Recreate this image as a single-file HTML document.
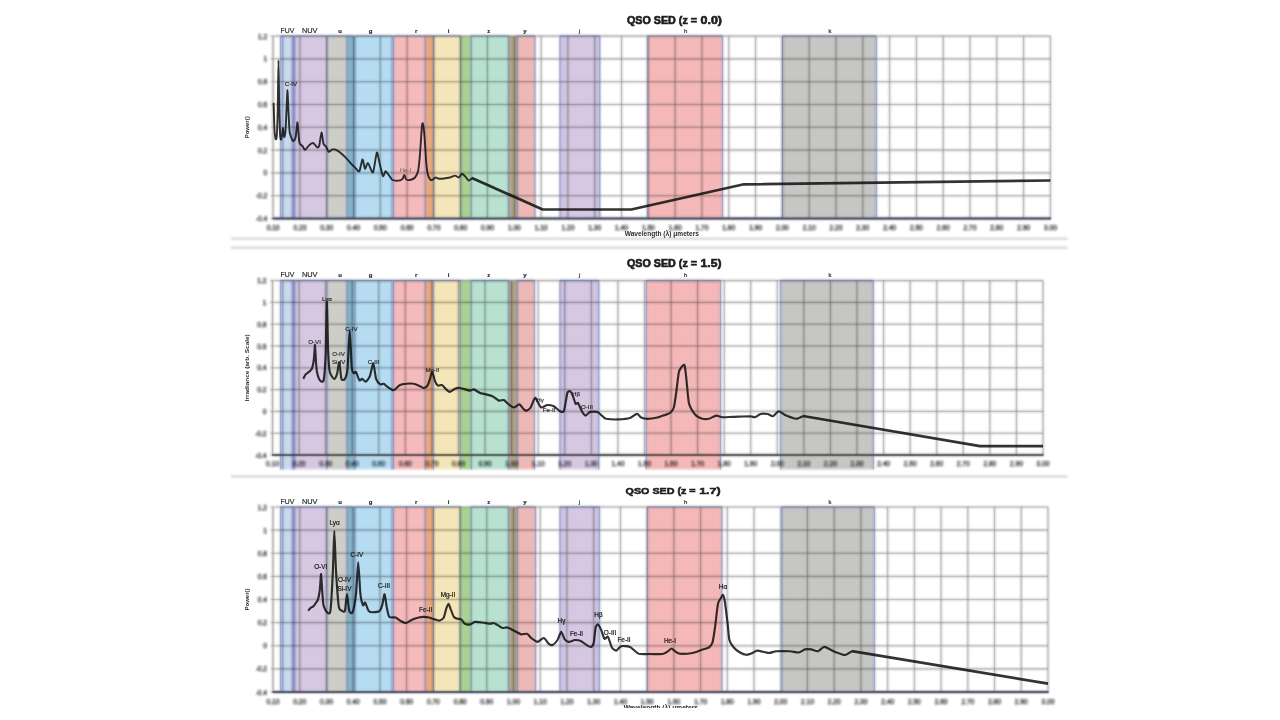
<!DOCTYPE html>
<html lang="en">
<head>
<meta charset="utf-8">
<title>QSO SED</title>
<style>
html,body{margin:0;padding:0;background:#fff;}
body{width:1280px;height:720px;overflow:hidden;font-family:"Liberation Sans", sans-serif;}
svg{display:block;font-family:"Liberation Sans", sans-serif;}
</style>
</head>
<body>
<svg width="1280" height="720" viewBox="0 0 1280 720">
<defs>
<filter id="soft" x="-2%" y="-2%" width="104%" height="104%"><feGaussianBlur stdDeviation="0.9"/></filter>
<filter id="softt" x="-5%" y="-5%" width="110%" height="110%"><feGaussianBlur stdDeviation="0.65"/></filter>
<filter id="softc" x="-2%" y="-2%" width="104%" height="104%"><feGaussianBlur stdDeviation="0.45"/></filter>
<clipPath id="xl3"><rect x="600" y="700" width="120" height="8.0"/></clipPath>
<filter id="softb" x="-5%" y="-20%" width="110%" height="140%"><feGaussianBlur stdDeviation="0.9"/></filter>
</defs>
<rect width="1280" height="720" fill="#fff"/>
<g>
<g filter="url(#soft)"><g stroke="#cfcfcf" stroke-width="2">
<line x1="231" y1="238.8" x2="1067.5" y2="238.8"/>
<line x1="231" y1="247.8" x2="1067.5" y2="247.8"/>
<line x1="231" y1="476.6" x2="1067.5" y2="476.6"/>
</g></g>
<g id="chart1">
<g filter="url(#soft)">
<rect x="280.60" y="36.10" width="13.80" height="182.40" fill="#cbdaea"/>
<rect x="295.40" y="36.10" width="31.60" height="182.40" fill="#d7c8e2"/>
<rect x="327.00" y="36.10" width="26.50" height="182.40" fill="#cecec8"/>
<rect x="355.00" y="36.10" width="37.00" height="182.40" fill="#b5dcf0"/>
<rect x="393.50" y="36.10" width="39.50" height="182.40" fill="#f4babc"/>
<rect x="433.00" y="36.10" width="27.50" height="182.40" fill="#f4e6b8"/>
<rect x="471.00" y="36.10" width="37.75" height="182.40" fill="#b8e2cf"/>
<rect x="517.00" y="36.10" width="18.00" height="182.40" fill="#edb9b7"/>
<rect x="560.00" y="36.10" width="39.75" height="182.40" fill="#d6c8e2"/>
<rect x="647.50" y="36.10" width="75.00" height="182.40" fill="#f4b8b8"/>
<rect x="782.50" y="36.10" width="93.80" height="182.40" fill="#c6c6c4"/>
<rect x="291.60" y="36.10" width="4.00" height="182.40" fill="#8388c4"/>
<rect x="347.00" y="36.10" width="8.00" height="182.40" fill="#86b5c7"/>
<rect x="425.20" y="36.10" width="8.20" height="182.40" fill="#eaa87d"/>
<rect x="460.30" y="36.10" width="11.00" height="182.40" fill="#a9d190"/>
<rect x="508.40" y="36.10" width="9.00" height="182.40" fill="#b3a486"/>
<rect x="560.00" y="36.10" width="6.50" height="182.40" fill="#d1c5e2"/>
<rect x="593.75" y="36.10" width="6.00" height="182.40" fill="#d1c5e2"/>
<path d="M280.60,36.10V218.50 M282.80,36.10V218.50 M327.00,36.10V218.50 M347.00,36.10V218.50 M355.00,36.10V218.50 M392.00,36.10V218.50 M393.50,36.10V218.50 M425.20,36.10V218.50 M433.40,36.10V218.50 M460.30,36.10V218.50 M471.30,36.10V218.50 M508.40,36.10V218.50 M517.40,36.10V218.50 M535.00,36.10V218.50 M560.00,36.10V218.50 M599.75,36.10V218.50 M647.50,36.10V218.50 M722.50,36.10V218.50 M782.50,36.10V218.50 M876.30,36.10V218.50 M280.60,36.10H294.40 M295.40,36.10H327.00 M327.00,36.10H353.50 M355.00,36.10H392.00 M393.50,36.10H433.00 M433.00,36.10H460.50 M471.00,36.10H508.75 M517.00,36.10H535.00 M560.00,36.10H599.75 M647.50,36.10H722.50 M782.50,36.10H876.30" stroke="#7283ba" stroke-opacity="0.6" stroke-width="1.6" fill="none"/>
<path d="M273.10,36.10V218.50 M299.90,36.10V218.50 M326.71,36.10V218.50 M353.51,36.10V218.50 M380.31,36.10V218.50 M407.12,36.10V218.50 M433.92,36.10V218.50 M460.72,36.10V218.50 M487.53,36.10V218.50 M514.33,36.10V218.50 M541.13,36.10V218.50 M567.94,36.10V218.50 M594.74,36.10V218.50 M621.54,36.10V218.50 M648.35,36.10V218.50 M675.15,36.10V218.50 M701.96,36.10V218.50 M728.76,36.10V218.50 M755.56,36.10V218.50 M782.37,36.10V218.50 M809.17,36.10V218.50 M835.97,36.10V218.50 M862.78,36.10V218.50 M889.58,36.10V218.50 M916.38,36.10V218.50 M943.19,36.10V218.50 M969.99,36.10V218.50 M996.79,36.10V218.50 M1023.60,36.10V218.50 M1050.40,36.10V218.50 M270.60,36.10H1050.40 M270.60,58.90H1050.40 M270.60,81.70H1050.40 M270.60,104.50H1050.40 M270.60,127.30H1050.40 M270.60,150.10H1050.40 M270.60,172.90H1050.40 M270.60,195.70H1050.40 M270.60,218.50H1050.40" stroke="#000" stroke-opacity="0.27" stroke-width="1.6" fill="none"/>
<line x1="272.60" y1="218.50" x2="1050.90" y2="218.50" stroke="#454b60" stroke-width="2.0" opacity="0.9"/>
<line x1="273.10" y1="36.10" x2="273.10" y2="218.50" stroke="#c2bbb1" stroke-width="1.6"/>
</g>
<path d="M280.60,36.10V218.50 M282.80,36.10V218.50 M327.00,36.10V218.50 M347.00,36.10V218.50 M355.00,36.10V218.50 M392.00,36.10V218.50 M393.50,36.10V218.50 M425.20,36.10V218.50 M433.40,36.10V218.50 M460.30,36.10V218.50 M471.30,36.10V218.50 M508.40,36.10V218.50 M517.40,36.10V218.50 M535.00,36.10V218.50 M560.00,36.10V218.50 M599.75,36.10V218.50 M647.50,36.10V218.50 M722.50,36.10V218.50 M782.50,36.10V218.50 M876.30,36.10V218.50 M280.60,36.10H294.40 M295.40,36.10H327.00 M327.00,36.10H353.50 M355.00,36.10H392.00 M393.50,36.10H433.00 M433.00,36.10H460.50 M471.00,36.10H508.75 M517.00,36.10H535.00 M560.00,36.10H599.75 M647.50,36.10H722.50 M782.50,36.10H876.30" stroke="#7283ba" stroke-opacity="0.45" stroke-width="1" fill="none"/><path d="M273.10,36.10V218.50 M299.90,36.10V218.50 M326.71,36.10V218.50 M353.51,36.10V218.50 M380.31,36.10V218.50 M407.12,36.10V218.50 M433.92,36.10V218.50 M460.72,36.10V218.50 M487.53,36.10V218.50 M514.33,36.10V218.50 M541.13,36.10V218.50 M567.94,36.10V218.50 M594.74,36.10V218.50 M621.54,36.10V218.50 M648.35,36.10V218.50 M675.15,36.10V218.50 M701.96,36.10V218.50 M728.76,36.10V218.50 M755.56,36.10V218.50 M782.37,36.10V218.50 M809.17,36.10V218.50 M835.97,36.10V218.50 M862.78,36.10V218.50 M889.58,36.10V218.50 M916.38,36.10V218.50 M943.19,36.10V218.50 M969.99,36.10V218.50 M996.79,36.10V218.50 M1023.60,36.10V218.50 M1050.40,36.10V218.50 M270.60,36.10H1050.40 M270.60,58.90H1050.40 M270.60,81.70H1050.40 M270.60,104.50H1050.40 M270.60,127.30H1050.40 M270.60,150.10H1050.40 M270.60,172.90H1050.40 M270.60,195.70H1050.40 M270.60,218.50H1050.40" stroke="#000" stroke-opacity="0.12" stroke-width="1" fill="none"/>
<line x1="272.60" y1="218.50" x2="1050.90" y2="218.50" stroke="#454b60" stroke-width="2.0" opacity="0.6"/>
<g fill="none" stroke="#0c0c0c" stroke-opacity="0.84" stroke-linejoin="round" stroke-linecap="butt"><path d="M273.6,102.8 C273.7,105.6 274.2,124.0 274.4,128.0 C274.6,132.0 275.3,138.1 275.6,139.0 C275.9,139.9 276.6,139.2 276.8,136.0 C277.0,132.8 277.5,118.3 277.7,110.0 C277.9,101.7 278.3,60.4 278.5,60.4 C278.7,60.4 279.1,101.7 279.3,110.0 C279.5,118.3 280.0,132.8 280.2,136.0 C280.4,139.2 281.0,139.7 281.2,139.5 C281.4,139.3 282.0,135.3 282.2,134.0 C282.4,132.7 282.8,127.7 283.0,128.0 C283.2,128.3 283.9,136.6 284.2,137.0 C284.5,137.4 285.1,135.0 285.4,132.0 C285.7,129.0 286.3,114.6 286.5,110.0 C286.7,105.4 287.3,90.1 287.5,90.3 C287.7,90.5 288.3,107.7 288.5,112.0 C288.7,116.3 289.2,126.6 289.4,129.0 C289.6,131.4 289.6,132.4 290.0,133.8 C290.4,135.1 292.4,140.6 293.0,141.0 C293.6,141.4 295.1,139.5 295.6,137.5 C296.1,135.5 297.1,122.0 297.5,122.5 C297.9,123.0 298.8,139.9 299.4,142.5 C299.9,145.1 301.9,145.2 302.5,146.0 C303.1,146.8 304.3,150.0 305.0,150.0 C305.7,150.0 307.9,146.4 308.8,145.6 C309.6,144.8 312.0,142.8 313.0,143.0 C314.0,143.2 316.8,147.3 317.5,147.5 C318.2,147.7 319.0,146.7 319.4,145.0 C319.8,143.3 321.0,132.6 321.5,132.5 C322.0,132.4 323.0,142.2 323.5,143.8 C324.0,145.3 325.7,146.0 326.2,146.9 C326.8,147.8 328.1,151.6 328.8,151.9 C329.4,152.2 331.5,149.5 332.5,149.4 C333.5,149.3 336.1,149.8 337.5,150.6 C338.9,151.4 343.5,155.5 345.0,156.9 C346.5,158.3 350.0,162.4 351.2,163.8 C352.5,165.1 355.4,167.9 356.2,168.8 C357.1,169.6 358.7,172.3 359.4,171.2 C360.1,170.2 361.9,159.7 362.5,159.4 C363.1,159.1 364.4,168.4 365.0,168.8 C365.6,169.1 367.1,162.6 368.0,163.0 C368.9,163.4 372.0,173.7 373.0,172.5 C374.0,171.3 376.1,153.3 376.9,152.5 C377.7,151.7 379.3,162.4 380.0,165.0 C380.7,167.6 382.4,175.6 383.0,176.2 C383.6,176.9 384.9,171.3 385.6,171.2 C386.3,171.2 388.6,175.0 389.4,176.0 C390.2,177.0 391.5,179.5 392.5,180.0 C393.5,180.5 397.6,180.7 398.8,180.6 C399.9,180.5 401.9,179.4 402.5,178.8 C403.1,178.1 404.0,174.9 404.4,175.0 C404.8,175.1 405.6,178.8 406.2,179.4 C406.9,180.0 409.0,180.2 410.0,180.0 C411.0,179.8 414.1,178.5 415.0,177.5 C415.9,176.5 417.4,173.9 418.0,171.2 C418.6,168.6 419.6,158.7 420.0,153.8 C420.4,148.8 421.6,129.6 421.9,126.2 C422.2,123.0 422.7,122.8 423.0,123.8 C423.3,124.7 424.0,130.7 424.4,135.0 C424.8,139.3 425.9,158.1 426.2,162.5 C426.6,166.9 427.5,173.1 428.0,175.0 C428.5,176.9 430.1,179.5 430.6,180.0 C431.2,180.5 432.4,179.7 433.0,179.4 C433.6,179.1 434.8,177.6 435.6,177.5 C436.4,177.4 438.4,178.8 440.0,178.8 C441.6,178.8 448.4,177.8 450.0,177.5 C451.6,177.2 454.0,175.6 455.0,175.6 C456.0,175.6 458.0,177.7 458.8,177.5 C459.5,177.3 461.2,173.9 461.9,173.8 C462.6,173.6 464.2,175.5 465.0,176.2 C465.8,177.0 468.0,180.4 468.8,180.6 C469.5,180.8 471.6,178.3 471.9,178.0" stroke-width="1.9"/><path d="M471.9,178.0 L542.7,209.5 L631.3,209.5 L743.9,184.3 L1050.4,180.5" stroke-width="2.7"/></g>
<g filter="url(#softt)">
<g font-size="6.6" fill="#1a1a1a" stroke="#1a1a1a" stroke-width="0.25" text-anchor="middle" filter="url(#softb)"><text x="273.10" y="230.30">0.10</text><text x="299.90" y="230.30">0.20</text><text x="326.71" y="230.30">0.30</text><text x="353.51" y="230.30">0.40</text><text x="380.31" y="230.30">0.50</text><text x="407.12" y="230.30">0.60</text><text x="433.92" y="230.30">0.70</text><text x="460.72" y="230.30">0.80</text><text x="487.53" y="230.30">0.90</text><text x="514.33" y="230.30">1.00</text><text x="541.13" y="230.30">1.10</text><text x="567.94" y="230.30">1.20</text><text x="594.74" y="230.30">1.30</text><text x="621.54" y="230.30">1.40</text><text x="648.35" y="230.30">1.50</text><text x="675.15" y="230.30">1.60</text><text x="701.96" y="230.30">1.70</text><text x="728.76" y="230.30">1.80</text><text x="755.56" y="230.30">1.90</text><text x="782.37" y="230.30">2.00</text><text x="809.17" y="230.30">2.10</text><text x="835.97" y="230.30">2.20</text><text x="862.78" y="230.30">2.30</text><text x="889.58" y="230.30">2.40</text><text x="916.38" y="230.30">2.50</text><text x="943.19" y="230.30">2.60</text><text x="969.99" y="230.30">2.70</text><text x="996.79" y="230.30">2.80</text><text x="1023.60" y="230.30">2.90</text><text x="1050.40" y="230.30">3.00</text></g>
<g font-size="6.6" fill="#1a1a1a" stroke="#1a1a1a" stroke-width="0.25" text-anchor="end" filter="url(#softb)"><text x="267.10" y="38.60">1.2</text><text x="267.10" y="61.40">1</text><text x="267.10" y="84.20">0.8</text><text x="267.10" y="107.00">0.6</text><text x="267.10" y="129.80">0.4</text><text x="267.10" y="152.60">0.2</text><text x="267.10" y="175.40">0</text><text x="267.10" y="198.20">-0.2</text><text x="267.10" y="221.00">-0.4</text></g>
<g fill="#2a2a2a" stroke="#2a2a2a" stroke-width="0.2" text-anchor="middle"><text x="287.50" y="32.60" font-size="8" textLength="13.8" lengthAdjust="spacingAndGlyphs">FUV</text><text x="309.70" y="32.60" font-size="8" textLength="15.6" lengthAdjust="spacingAndGlyphs">NUV</text><text x="340.00" y="32.60" font-size="6" font-weight="700">u</text><text x="370.60" y="32.60" font-size="6" font-weight="700">g</text><text x="416.20" y="32.60" font-size="6" font-weight="700">r</text><text x="448.70" y="32.60" font-size="6" font-weight="700">i</text><text x="488.70" y="32.60" font-size="6" font-weight="700">z</text><text x="525.00" y="32.60" font-size="6" font-weight="700">y</text><text x="579.40" y="32.60" font-size="6" font-weight="400">j</text><text x="685.60" y="32.60" font-size="6" font-weight="400">h</text><text x="830.00" y="32.60" font-size="6" font-weight="400">k</text></g>
<g transform="translate(0,23.60) scale(1,1.0)" font-size="11.6" font-weight="700" fill="#1c1c1c" stroke="#1c1c1c" stroke-width="0.65"><text x="627.00" y="0" textLength="70" lengthAdjust="spacingAndGlyphs">QSO SED (z =</text><text x="700.60" y="0" textLength="21.40" lengthAdjust="spacingAndGlyphs">0.0)</text></g>
<text transform="translate(249.3,127.30) rotate(-90)" font-size="6" font-weight="700" fill="#2a2a2a" text-anchor="middle" textLength="22" lengthAdjust="spacingAndGlyphs">Power()</text>
<g><text x="624.7" y="236" font-size="6.5" font-weight="700" fill="#2a2a2a" textLength="74.29999999999995" lengthAdjust="spacingAndGlyphs">Wavelength (λ) μmeters</text></g>
<g font-size="6.2" fill="#222" stroke="#222" stroke-width="0.15" text-anchor="middle"><text x="291.0" y="86.0">C-IV</text><text x="405.5" y="172.2" opacity="0.45">He-I</text></g>
</g>
</g>
<g id="chart2">
<g filter="url(#soft)">
<rect x="280.60" y="280.60" width="13.80" height="188.80" fill="#cbdaea"/>
<rect x="295.40" y="280.60" width="31.60" height="188.80" fill="#d7c8e2"/>
<rect x="327.00" y="280.60" width="26.50" height="188.80" fill="#cecec8"/>
<rect x="355.00" y="280.60" width="37.00" height="188.80" fill="#b5dcf0"/>
<rect x="393.50" y="280.60" width="39.50" height="188.80" fill="#f4babc"/>
<rect x="433.00" y="280.60" width="27.50" height="188.80" fill="#f4e6b8"/>
<rect x="471.00" y="280.60" width="37.75" height="188.80" fill="#b8e2cf"/>
<rect x="517.00" y="280.60" width="17.40" height="188.80" fill="#edb9b7"/>
<rect x="560.00" y="280.60" width="38.75" height="188.80" fill="#d6c8e2"/>
<rect x="646.25" y="280.60" width="74.25" height="188.80" fill="#f4b8b8"/>
<rect x="780.60" y="280.60" width="92.70" height="188.80" fill="#c6c6c4"/>
<rect x="291.60" y="280.60" width="4.00" height="188.80" fill="#8388c4"/>
<rect x="347.00" y="280.60" width="8.00" height="188.80" fill="#86b5c7"/>
<rect x="425.20" y="280.60" width="8.20" height="188.80" fill="#eaa87d"/>
<rect x="460.30" y="280.60" width="11.00" height="188.80" fill="#a9d190"/>
<rect x="508.40" y="280.60" width="9.00" height="188.80" fill="#b3a486"/>
<rect x="560.00" y="280.60" width="6.50" height="188.80" fill="#d1c5e2"/>
<rect x="592.75" y="280.60" width="6.00" height="188.80" fill="#d1c5e2"/>
<path d="M280.60,280.60V469.40 M282.80,280.60V469.40 M327.00,280.60V469.40 M347.00,280.60V469.40 M355.00,280.60V469.40 M392.00,280.60V469.40 M393.50,280.60V469.40 M425.20,280.60V469.40 M433.40,280.60V469.40 M460.30,280.60V469.40 M471.30,280.60V469.40 M508.40,280.60V469.40 M517.40,280.60V469.40 M534.40,280.60V469.40 M560.00,280.60V469.40 M598.75,280.60V469.40 M646.25,280.60V469.40 M720.50,280.60V469.40 M780.60,280.60V469.40 M873.30,280.60V469.40 M280.60,280.60H294.40 M295.40,280.60H327.00 M327.00,280.60H353.50 M355.00,280.60H392.00 M393.50,280.60H433.00 M433.00,280.60H460.50 M471.00,280.60H508.75 M517.00,280.60H534.40 M560.00,280.60H598.75 M646.25,280.60H720.50 M780.60,280.60H873.30" stroke="#7283ba" stroke-opacity="0.6" stroke-width="1.6" fill="none"/>
<path d="M272.50,280.60V455.00 M299.07,280.60V455.00 M325.64,280.60V455.00 M352.21,280.60V455.00 M378.78,280.60V455.00 M405.34,280.60V455.00 M431.91,280.60V455.00 M458.48,280.60V455.00 M485.05,280.60V455.00 M511.62,280.60V455.00 M538.19,280.60V455.00 M564.76,280.60V455.00 M591.33,280.60V455.00 M617.90,280.60V455.00 M644.47,280.60V455.00 M671.03,280.60V455.00 M697.60,280.60V455.00 M724.17,280.60V455.00 M750.74,280.60V455.00 M777.31,280.60V455.00 M803.88,280.60V455.00 M830.45,280.60V455.00 M857.02,280.60V455.00 M883.59,280.60V455.00 M910.16,280.60V455.00 M936.72,280.60V455.00 M963.29,280.60V455.00 M989.86,280.60V455.00 M1016.43,280.60V455.00 M1043.00,280.60V455.00 M270.00,280.60H1043.00 M270.00,302.40H1043.00 M270.00,324.20H1043.00 M270.00,346.00H1043.00 M270.00,367.80H1043.00 M270.00,389.60H1043.00 M270.00,411.40H1043.00 M270.00,433.20H1043.00 M270.00,455.00H1043.00" stroke="#000" stroke-opacity="0.27" stroke-width="1.6" fill="none"/>
<line x1="272.00" y1="455.00" x2="1043.50" y2="455.00" stroke="#3a3a3a" stroke-width="1.3" opacity="0.9"/>
<line x1="272.50" y1="280.60" x2="272.50" y2="455.00" stroke="#c2bbb1" stroke-width="1.6"/>
</g>
<path d="M280.60,280.60V469.40 M282.80,280.60V469.40 M327.00,280.60V469.40 M347.00,280.60V469.40 M355.00,280.60V469.40 M392.00,280.60V469.40 M393.50,280.60V469.40 M425.20,280.60V469.40 M433.40,280.60V469.40 M460.30,280.60V469.40 M471.30,280.60V469.40 M508.40,280.60V469.40 M517.40,280.60V469.40 M534.40,280.60V469.40 M560.00,280.60V469.40 M598.75,280.60V469.40 M646.25,280.60V469.40 M720.50,280.60V469.40 M780.60,280.60V469.40 M873.30,280.60V469.40 M280.60,280.60H294.40 M295.40,280.60H327.00 M327.00,280.60H353.50 M355.00,280.60H392.00 M393.50,280.60H433.00 M433.00,280.60H460.50 M471.00,280.60H508.75 M517.00,280.60H534.40 M560.00,280.60H598.75 M646.25,280.60H720.50 M780.60,280.60H873.30" stroke="#7283ba" stroke-opacity="0.45" stroke-width="1" fill="none"/><path d="M272.50,280.60V455.00 M299.07,280.60V455.00 M325.64,280.60V455.00 M352.21,280.60V455.00 M378.78,280.60V455.00 M405.34,280.60V455.00 M431.91,280.60V455.00 M458.48,280.60V455.00 M485.05,280.60V455.00 M511.62,280.60V455.00 M538.19,280.60V455.00 M564.76,280.60V455.00 M591.33,280.60V455.00 M617.90,280.60V455.00 M644.47,280.60V455.00 M671.03,280.60V455.00 M697.60,280.60V455.00 M724.17,280.60V455.00 M750.74,280.60V455.00 M777.31,280.60V455.00 M803.88,280.60V455.00 M830.45,280.60V455.00 M857.02,280.60V455.00 M883.59,280.60V455.00 M910.16,280.60V455.00 M936.72,280.60V455.00 M963.29,280.60V455.00 M989.86,280.60V455.00 M1016.43,280.60V455.00 M1043.00,280.60V455.00 M270.00,280.60H1043.00 M270.00,302.40H1043.00 M270.00,324.20H1043.00 M270.00,346.00H1043.00 M270.00,367.80H1043.00 M270.00,389.60H1043.00 M270.00,411.40H1043.00 M270.00,433.20H1043.00 M270.00,455.00H1043.00" stroke="#000" stroke-opacity="0.12" stroke-width="1" fill="none"/>
<line x1="272.00" y1="455.00" x2="1043.50" y2="455.00" stroke="#3a3a3a" stroke-width="1.3" opacity="0.6"/>
<g fill="none" stroke="#0c0c0c" stroke-opacity="0.84" stroke-linejoin="round" stroke-linecap="butt"><path d="M303.2,378.9 C303.5,378.4 305.0,375.2 305.5,374.5 C306.0,373.8 307.5,373.0 308.0,372.6 C308.5,372.2 309.5,371.5 310.0,371.0 C310.5,370.5 311.8,369.0 312.2,367.8 C312.6,366.6 313.5,362.5 313.8,360.0 C314.1,357.5 314.8,344.7 315.0,344.9 C315.2,345.1 315.8,359.0 316.0,362.0 C316.2,365.0 316.6,370.0 317.0,372.0 C317.4,374.0 319.2,379.4 319.9,380.3 C320.6,381.2 323.0,383.0 323.6,380.3 C324.2,377.6 325.2,364.6 325.6,356.0 C326.0,347.4 326.5,302.5 326.8,301.8 C327.1,301.1 327.8,342.5 328.1,350.0 C328.4,357.5 329.1,367.2 329.4,370.0 C329.7,372.8 330.4,374.0 331.0,375.0 C331.6,376.0 333.7,379.1 334.4,378.9 C335.1,378.7 336.7,375.1 337.2,373.3 C337.7,371.5 338.8,361.6 339.3,362.2 C339.8,362.8 340.8,377.1 341.4,378.9 C342.0,380.7 344.2,380.1 344.9,378.9 C345.6,377.7 347.1,373.1 347.6,367.8 C348.1,362.5 349.2,330.3 349.7,330.3 C350.2,330.3 351.3,363.1 351.8,367.8 C352.3,372.5 353.4,372.8 353.9,373.3 C354.4,373.8 355.4,371.2 356.0,372.0 C356.6,372.8 358.7,379.5 359.4,380.3 C360.1,381.1 361.5,378.7 362.2,378.9 C362.9,379.1 364.9,382.0 365.7,381.7 C366.5,381.4 369.1,378.1 369.9,376.1 C370.7,374.1 372.6,363.3 373.3,363.6 C374.0,363.9 375.3,376.6 376.1,378.9 C376.9,381.2 379.5,383.9 380.3,384.4 C381.1,384.9 383.0,383.5 383.8,383.8 C384.5,384.0 386.5,386.2 387.5,386.9 C388.5,387.6 391.7,389.7 392.5,390.0 C393.3,390.3 394.2,389.9 395.0,389.4 C395.8,388.8 398.8,385.6 400.0,385.0 C401.2,384.4 404.7,383.9 406.2,383.8 C407.8,383.6 412.2,383.5 413.8,383.8 C415.3,384.0 418.9,385.8 420.0,386.2 C421.1,386.7 422.9,388.1 423.8,388.0 C424.6,387.9 426.8,386.6 427.5,385.6 C428.2,384.6 429.5,380.3 430.0,378.8 C430.5,377.2 431.7,371.6 432.2,371.9 C432.8,372.2 434.4,379.7 435.0,381.2 C435.6,382.8 437.2,385.2 438.0,385.6 C438.8,386.0 441.0,384.6 441.9,385.0 C442.8,385.4 445.4,388.6 446.2,389.4 C447.1,390.2 449.0,392.0 450.0,391.9 C451.0,391.8 453.9,389.2 455.0,388.8 C456.1,388.3 458.4,387.8 460.0,388.0 C461.6,388.2 468.5,390.4 470.0,390.6 C471.5,390.8 472.6,389.1 473.8,389.4 C474.9,389.7 478.6,392.4 480.0,393.0 C481.4,393.6 484.9,394.0 486.2,394.4 C487.6,394.8 491.1,395.6 492.5,396.2 C493.9,396.9 497.5,400.2 498.8,400.6 C500.0,401.0 502.6,399.6 503.8,400.0 C504.9,400.4 507.6,403.6 508.8,404.4 C509.9,405.2 512.6,407.5 513.8,407.5 C514.9,407.5 518.3,404.2 519.4,404.4 C520.5,404.6 522.9,408.7 523.8,409.4 C524.6,410.1 526.1,410.8 526.9,410.6 C527.7,410.4 529.8,408.7 530.6,407.5 C531.4,406.3 533.2,401.0 533.8,400.0 C534.3,399.0 535.1,397.7 535.6,398.0 C536.1,398.3 537.4,401.5 538.0,402.5 C538.6,403.5 540.2,407.2 541.2,407.5 C542.3,407.8 546.1,405.1 547.5,405.0 C548.9,404.9 552.4,405.6 553.8,406.2 C555.1,406.9 558.9,410.7 560.0,411.2 C561.1,411.8 563.1,412.2 563.8,411.2 C564.4,410.3 565.2,404.6 565.6,402.5 C566.0,400.4 567.0,393.7 567.5,392.5 C568.0,391.3 569.5,391.0 570.0,391.2 C570.5,391.5 571.9,393.6 572.5,395.0 C573.1,396.4 575.0,402.9 575.6,403.8 C576.2,404.6 577.3,402.2 578.0,403.0 C578.7,403.8 581.1,409.9 581.9,411.2 C582.7,412.6 584.7,415.5 585.6,415.6 C586.5,415.7 588.7,412.3 590.0,411.9 C591.3,411.5 596.1,411.4 597.5,411.9 C598.9,412.4 601.5,415.5 602.5,416.2 C603.5,417.0 604.5,418.4 606.2,418.8 C608.0,419.1 616.1,419.5 618.8,419.4 C621.4,419.3 628.0,418.6 630.0,418.0 C632.0,417.4 635.7,413.8 636.9,413.8 C638.1,413.7 640.1,416.9 641.2,417.5 C642.4,418.1 645.7,418.8 647.5,418.8 C649.3,418.8 655.6,417.9 657.5,417.5 C659.4,417.1 663.6,415.5 665.0,415.0 C666.4,414.5 669.0,413.8 670.0,413.0 C671.0,412.2 673.1,409.8 673.8,407.5 C674.4,405.2 675.7,396.4 676.2,392.5 C676.8,388.6 678.2,375.2 678.8,372.5 C679.3,369.8 680.6,368.3 681.2,367.5 C681.9,366.7 683.9,363.9 684.4,365.0 C684.9,366.1 685.8,373.4 686.2,377.5 C686.7,381.6 688.1,398.9 688.8,402.5 C689.4,406.1 691.1,408.6 691.9,410.0 C692.7,411.4 695.1,414.6 696.2,415.6 C697.4,416.6 701.1,418.4 702.5,418.8 C703.9,419.1 707.2,419.1 708.8,418.8 C710.3,418.4 714.7,415.8 716.2,415.6 C717.8,415.4 720.7,417.1 722.5,417.2 C724.3,417.4 729.5,417.0 732.5,416.9 C735.5,416.8 747.5,416.2 750.0,416.2 C752.5,416.3 753.8,417.5 755.0,417.2 C756.2,417.0 759.2,414.4 760.6,414.0 C762.0,413.6 766.1,413.8 767.5,414.0 C768.9,414.2 771.8,416.6 773.0,416.2 C774.2,415.9 777.3,411.3 778.8,411.2 C780.2,411.2 784.3,414.8 786.2,415.6 C788.2,416.4 794.4,418.7 796.2,418.8 C798.1,418.8 802.3,416.3 803.0,416.0" stroke-width="2.15"/><path d="M803.0,416.0 L980.0,446.2 L1043.0,446.2" stroke-width="2.7"/></g>
<g filter="url(#softt)">
<g font-size="6.6" fill="#1a1a1a" stroke="#1a1a1a" stroke-width="0.25" text-anchor="middle" filter="url(#softb)"><text x="272.50" y="466.30">0.10</text><text x="299.07" y="466.30">0.20</text><text x="325.64" y="466.30">0.30</text><text x="352.21" y="466.30">0.40</text><text x="378.78" y="466.30">0.50</text><text x="405.34" y="466.30">0.60</text><text x="431.91" y="466.30">0.70</text><text x="458.48" y="466.30">0.80</text><text x="485.05" y="466.30">0.90</text><text x="511.62" y="466.30">1.00</text><text x="538.19" y="466.30">1.10</text><text x="564.76" y="466.30">1.20</text><text x="591.33" y="466.30">1.30</text><text x="617.90" y="466.30">1.40</text><text x="644.47" y="466.30">1.50</text><text x="671.03" y="466.30">1.60</text><text x="697.60" y="466.30">1.70</text><text x="724.17" y="466.30">1.80</text><text x="750.74" y="466.30">1.90</text><text x="777.31" y="466.30">2.00</text><text x="803.88" y="466.30">2.10</text><text x="830.45" y="466.30">2.20</text><text x="857.02" y="466.30">2.30</text><text x="883.59" y="466.30">2.40</text><text x="910.16" y="466.30">2.50</text><text x="936.72" y="466.30">2.60</text><text x="963.29" y="466.30">2.70</text><text x="989.86" y="466.30">2.80</text><text x="1016.43" y="466.30">2.90</text><text x="1043.00" y="466.30">3.00</text></g>
<g font-size="6.6" fill="#1a1a1a" stroke="#1a1a1a" stroke-width="0.25" text-anchor="end" filter="url(#softb)"><text x="266.50" y="283.10">1.2</text><text x="266.50" y="304.90">1</text><text x="266.50" y="326.70">0.8</text><text x="266.50" y="348.50">0.6</text><text x="266.50" y="370.30">0.4</text><text x="266.50" y="392.10">0.2</text><text x="266.50" y="413.90">0</text><text x="266.50" y="435.70">-0.2</text><text x="266.50" y="457.50">-0.4</text></g>
<g fill="#2a2a2a" stroke="#2a2a2a" stroke-width="0.2" text-anchor="middle"><text x="287.50" y="277.10" font-size="8" textLength="13.8" lengthAdjust="spacingAndGlyphs">FUV</text><text x="309.70" y="277.10" font-size="8" textLength="15.6" lengthAdjust="spacingAndGlyphs">NUV</text><text x="340.00" y="277.10" font-size="6" font-weight="700">u</text><text x="370.60" y="277.10" font-size="6" font-weight="700">g</text><text x="416.20" y="277.10" font-size="6" font-weight="700">r</text><text x="448.70" y="277.10" font-size="6" font-weight="700">i</text><text x="488.70" y="277.10" font-size="6" font-weight="700">z</text><text x="525.00" y="277.10" font-size="6" font-weight="700">y</text><text x="579.40" y="277.10" font-size="6" font-weight="400">j</text><text x="685.60" y="277.10" font-size="6" font-weight="400">h</text><text x="830.00" y="277.10" font-size="6" font-weight="400">k</text></g>
<g transform="translate(0,267.30) scale(1,1.0)" font-size="11.6" font-weight="700" fill="#1c1c1c" stroke="#1c1c1c" stroke-width="0.65"><text x="627.00" y="0" textLength="70" lengthAdjust="spacingAndGlyphs">QSO SED (z =</text><text x="700.60" y="0" textLength="20.90" lengthAdjust="spacingAndGlyphs">1.5)</text></g>
<text transform="translate(249.3,367.80) rotate(-90)" font-size="6" font-weight="700" fill="#2a2a2a" text-anchor="middle" textLength="67" lengthAdjust="spacingAndGlyphs">Irradiance (arb. Scale)</text>
<g font-size="6.2" fill="#222" stroke="#222" stroke-width="0.15" text-anchor="middle"><text x="327.0" y="300.5">Lyα</text><text x="314.5" y="344.0">O-VI</text><text x="351.5" y="331.0">C-IV</text><text x="338.6" y="355.5">O-IV</text><text x="338.6" y="364.0">Si-IV</text><text x="373.5" y="363.5">C-III</text><text x="432.5" y="372.0">Mg-II</text><text x="540.0" y="402.0">Hγ</text><text x="549.0" y="412.0">Fe-II</text><text x="576.0" y="395.5">Hβ</text><text x="587.0" y="409.0">O-III</text></g>
</g>
</g>
<g id="chart3">
<g filter="url(#soft)">
<rect x="280.60" y="507.00" width="13.80" height="185.00" fill="#cbdaea"/>
<rect x="295.40" y="507.00" width="31.60" height="185.00" fill="#d7c8e2"/>
<rect x="327.00" y="507.00" width="26.50" height="185.00" fill="#cecec8"/>
<rect x="355.00" y="507.00" width="37.00" height="185.00" fill="#b5dcf0"/>
<rect x="393.50" y="507.00" width="39.50" height="185.00" fill="#f4babc"/>
<rect x="433.00" y="507.00" width="27.50" height="185.00" fill="#f4e6b8"/>
<rect x="471.00" y="507.00" width="37.75" height="185.00" fill="#b8e2cf"/>
<rect x="517.00" y="507.00" width="18.60" height="185.00" fill="#edb9b7"/>
<rect x="560.00" y="507.00" width="39.40" height="185.00" fill="#d6c8e2"/>
<rect x="647.50" y="507.00" width="74.40" height="185.00" fill="#f4b8b8"/>
<rect x="781.90" y="507.00" width="92.50" height="185.00" fill="#c6c6c4"/>
<rect x="291.60" y="507.00" width="4.00" height="185.00" fill="#8388c4"/>
<rect x="347.00" y="507.00" width="8.00" height="185.00" fill="#86b5c7"/>
<rect x="425.20" y="507.00" width="8.20" height="185.00" fill="#eaa87d"/>
<rect x="460.30" y="507.00" width="11.00" height="185.00" fill="#a9d190"/>
<rect x="508.40" y="507.00" width="9.00" height="185.00" fill="#b3a486"/>
<rect x="560.00" y="507.00" width="6.50" height="185.00" fill="#d1c5e2"/>
<rect x="593.40" y="507.00" width="6.00" height="185.00" fill="#d1c5e2"/>
<path d="M280.60,507.00V692.00 M282.80,507.00V692.00 M327.00,507.00V692.00 M347.00,507.00V692.00 M355.00,507.00V692.00 M392.00,507.00V692.00 M393.50,507.00V692.00 M425.20,507.00V692.00 M433.40,507.00V692.00 M460.30,507.00V692.00 M471.30,507.00V692.00 M508.40,507.00V692.00 M517.40,507.00V692.00 M535.60,507.00V692.00 M560.00,507.00V692.00 M599.40,507.00V692.00 M647.50,507.00V692.00 M721.90,507.00V692.00 M781.90,507.00V692.00 M874.40,507.00V692.00 M280.60,507.00H294.40 M295.40,507.00H327.00 M327.00,507.00H353.50 M355.00,507.00H392.00 M393.50,507.00H433.00 M433.00,507.00H460.50 M471.00,507.00H508.75 M517.00,507.00H535.60 M560.00,507.00H599.40 M647.50,507.00H721.90 M781.90,507.00H874.40" stroke="#7283ba" stroke-opacity="0.6" stroke-width="1.6" fill="none"/>
<path d="M273.00,507.00V692.00 M299.72,507.00V692.00 M326.45,507.00V692.00 M353.17,507.00V692.00 M379.90,507.00V692.00 M406.62,507.00V692.00 M433.34,507.00V692.00 M460.07,507.00V692.00 M486.79,507.00V692.00 M513.52,507.00V692.00 M540.24,507.00V692.00 M566.97,507.00V692.00 M593.69,507.00V692.00 M620.41,507.00V692.00 M647.14,507.00V692.00 M673.86,507.00V692.00 M700.59,507.00V692.00 M727.31,507.00V692.00 M754.03,507.00V692.00 M780.76,507.00V692.00 M807.48,507.00V692.00 M834.21,507.00V692.00 M860.93,507.00V692.00 M887.66,507.00V692.00 M914.38,507.00V692.00 M941.10,507.00V692.00 M967.83,507.00V692.00 M994.55,507.00V692.00 M1021.28,507.00V692.00 M1048.00,507.00V692.00 M270.50,507.00H1048.00 M270.50,530.12H1048.00 M270.50,553.25H1048.00 M270.50,576.38H1048.00 M270.50,599.50H1048.00 M270.50,622.62H1048.00 M270.50,645.75H1048.00 M270.50,668.88H1048.00 M270.50,692.00H1048.00" stroke="#000" stroke-opacity="0.27" stroke-width="1.6" fill="none"/>
<line x1="272.50" y1="692.00" x2="1048.50" y2="692.00" stroke="#454b60" stroke-width="2.0" opacity="0.9"/>
<line x1="273.00" y1="507.00" x2="273.00" y2="692.00" stroke="#c2bbb1" stroke-width="1.6"/>
</g>
<path d="M280.60,507.00V692.00 M282.80,507.00V692.00 M327.00,507.00V692.00 M347.00,507.00V692.00 M355.00,507.00V692.00 M392.00,507.00V692.00 M393.50,507.00V692.00 M425.20,507.00V692.00 M433.40,507.00V692.00 M460.30,507.00V692.00 M471.30,507.00V692.00 M508.40,507.00V692.00 M517.40,507.00V692.00 M535.60,507.00V692.00 M560.00,507.00V692.00 M599.40,507.00V692.00 M647.50,507.00V692.00 M721.90,507.00V692.00 M781.90,507.00V692.00 M874.40,507.00V692.00 M280.60,507.00H294.40 M295.40,507.00H327.00 M327.00,507.00H353.50 M355.00,507.00H392.00 M393.50,507.00H433.00 M433.00,507.00H460.50 M471.00,507.00H508.75 M517.00,507.00H535.60 M560.00,507.00H599.40 M647.50,507.00H721.90 M781.90,507.00H874.40" stroke="#7283ba" stroke-opacity="0.45" stroke-width="1" fill="none"/><path d="M273.00,507.00V692.00 M299.72,507.00V692.00 M326.45,507.00V692.00 M353.17,507.00V692.00 M379.90,507.00V692.00 M406.62,507.00V692.00 M433.34,507.00V692.00 M460.07,507.00V692.00 M486.79,507.00V692.00 M513.52,507.00V692.00 M540.24,507.00V692.00 M566.97,507.00V692.00 M593.69,507.00V692.00 M620.41,507.00V692.00 M647.14,507.00V692.00 M673.86,507.00V692.00 M700.59,507.00V692.00 M727.31,507.00V692.00 M754.03,507.00V692.00 M780.76,507.00V692.00 M807.48,507.00V692.00 M834.21,507.00V692.00 M860.93,507.00V692.00 M887.66,507.00V692.00 M914.38,507.00V692.00 M941.10,507.00V692.00 M967.83,507.00V692.00 M994.55,507.00V692.00 M1021.28,507.00V692.00 M1048.00,507.00V692.00 M270.50,507.00H1048.00 M270.50,530.12H1048.00 M270.50,553.25H1048.00 M270.50,576.38H1048.00 M270.50,599.50H1048.00 M270.50,622.62H1048.00 M270.50,645.75H1048.00 M270.50,668.88H1048.00 M270.50,692.00H1048.00" stroke="#000" stroke-opacity="0.12" stroke-width="1" fill="none"/>
<line x1="272.50" y1="692.00" x2="1048.50" y2="692.00" stroke="#454b60" stroke-width="2.0" opacity="0.6"/>
<g fill="none" stroke="#0c0c0c" stroke-opacity="0.84" stroke-linejoin="round" stroke-linecap="butt"><path d="M308.2,610.8 C308.5,610.5 310.0,608.5 310.5,608.0 C311.0,607.5 312.4,607.2 313.0,606.7 C313.6,606.2 315.0,604.3 315.5,603.5 C316.0,602.7 317.4,601.2 317.9,599.7 C318.4,598.2 319.4,592.8 319.8,590.0 C320.2,587.2 320.8,573.8 321.1,574.0 C321.4,574.2 322.0,588.6 322.3,592.0 C322.6,595.4 323.0,603.1 323.5,605.3 C324.0,607.5 326.1,611.6 326.9,612.2 C327.7,612.8 329.7,615.4 330.4,610.8 C331.1,606.2 332.5,579.4 332.9,570.6 C333.3,561.8 334.0,531.0 334.3,531.0 C334.6,531.0 335.5,562.3 336.0,570.6 C336.5,578.9 338.1,602.3 338.8,606.7 C339.4,611.1 341.5,610.3 342.2,610.8 C342.9,611.3 344.5,612.6 345.0,610.8 C345.5,609.0 346.5,594.0 347.0,594.0 C347.5,594.0 348.6,608.8 349.2,610.8 C349.8,612.8 351.8,614.2 352.6,612.2 C353.4,610.2 355.5,598.3 356.1,592.8 C356.7,587.3 357.7,562.2 358.2,562.2 C358.7,562.2 359.8,588.1 360.3,592.8 C360.8,597.5 362.5,604.2 363.0,605.3 C363.5,606.4 364.5,601.9 365.1,602.5 C365.7,603.1 367.8,609.7 368.6,610.8 C369.4,611.9 371.6,612.2 372.8,612.2 C374.0,612.2 378.6,611.7 379.7,610.8 C380.8,609.9 382.0,605.7 382.5,603.9 C383.0,602.1 384.1,593.7 384.6,594.2 C385.1,594.7 386.4,605.5 386.9,608.0 C387.4,610.5 388.4,616.0 389.4,617.0 C390.4,618.0 394.3,617.0 395.6,617.5 C396.9,618.0 400.1,620.6 401.2,621.2 C402.4,621.9 405.0,623.2 406.2,623.0 C407.5,622.8 411.1,620.0 412.5,619.4 C413.9,618.8 417.5,617.8 418.8,617.5 C420.0,617.2 422.6,616.9 423.8,616.9 C424.9,616.9 427.5,617.2 428.8,617.5 C430.0,617.8 433.8,619.1 435.0,619.4 C436.2,619.7 438.4,620.8 439.4,620.6 C440.4,620.4 443.0,618.8 443.8,617.5 C444.5,616.2 445.7,610.3 446.2,608.8 C446.8,607.2 448.0,603.8 448.5,603.8 C449.0,603.8 450.0,607.3 450.6,608.8 C451.2,610.2 453.0,615.8 453.8,616.9 C454.5,618.0 456.7,618.5 457.5,618.8 C458.3,619.0 460.4,618.9 461.2,619.4 C462.1,619.9 464.0,623.2 465.0,623.8 C466.0,624.3 468.9,624.6 470.0,624.4 C471.1,624.2 473.6,622.1 475.0,621.9 C476.4,621.7 480.9,622.3 482.5,622.5 C484.1,622.7 488.8,623.7 490.0,623.8 C491.2,623.8 492.9,622.9 493.8,623.0 C494.6,623.1 496.5,624.5 497.5,625.0 C498.5,625.5 501.4,627.7 502.5,628.0 C503.6,628.3 506.1,627.1 507.5,627.5 C508.9,627.9 513.5,630.5 515.0,631.2 C516.5,632.0 519.9,634.1 521.2,634.4 C522.6,634.7 525.8,633.4 526.9,633.8 C528.0,634.1 530.1,637.1 531.2,638.0 C532.4,638.9 536.1,641.9 537.5,641.9 C538.9,641.9 542.5,637.8 543.8,638.0 C545.0,638.2 547.8,643.0 548.8,643.8 C549.7,644.5 551.5,645.4 552.5,645.0 C553.5,644.6 556.5,641.4 557.5,640.0 C558.5,638.6 560.5,632.0 561.2,631.9 C562.0,631.8 563.6,637.6 564.4,638.8 C565.2,639.9 567.6,641.8 568.8,641.9 C569.9,642.0 573.6,640.1 575.0,640.0 C576.4,639.9 579.9,640.6 581.2,641.2 C582.6,641.9 586.4,645.0 587.5,645.6 C588.6,646.2 590.6,647.2 591.2,646.9 C591.9,646.6 593.3,644.6 593.8,642.5 C594.2,640.4 595.1,629.5 595.6,627.5 C596.1,625.5 597.4,624.1 598.0,624.4 C598.6,624.7 600.5,628.4 601.2,630.0 C602.0,631.6 603.7,638.0 604.4,638.8 C605.1,639.5 607.2,635.9 608.0,636.9 C608.8,637.9 611.0,646.0 611.9,647.5 C612.8,649.0 615.2,650.7 616.2,650.6 C617.3,650.5 619.7,646.7 621.2,646.2 C622.8,645.8 628.1,646.1 630.0,646.9 C631.9,647.7 636.5,653.0 638.8,653.8 C641.0,654.5 647.4,654.0 650.0,654.0 C652.6,654.0 660.5,654.3 662.5,654.0 C664.5,653.7 667.0,651.9 668.0,651.2 C669.0,650.6 670.8,648.5 671.6,648.5 C672.4,648.5 674.1,650.7 675.0,651.2 C675.9,651.8 678.1,653.6 680.0,653.8 C681.9,653.9 690.2,653.4 692.5,653.0 C694.8,652.6 699.5,650.6 701.2,650.0 C703.0,649.4 707.5,648.3 708.8,647.5 C710.0,646.7 711.8,644.7 712.5,642.5 C713.2,640.3 714.4,631.8 715.0,627.5 C715.6,623.2 717.3,607.0 718.0,603.8 C718.7,600.5 720.7,598.5 721.2,597.5 C721.8,596.5 722.6,594.5 723.0,595.0 C723.4,595.5 724.5,599.5 725.0,602.5 C725.5,605.5 727.0,618.4 727.5,622.5 C728.0,626.6 728.7,637.2 729.4,640.0 C730.1,642.8 732.6,646.1 733.8,647.5 C734.9,648.9 738.6,651.7 740.0,652.5 C741.4,653.3 744.9,654.7 746.2,654.8 C747.6,654.8 751.3,653.5 752.5,653.0 C753.7,652.5 755.7,650.6 757.5,650.6 C759.3,650.6 766.7,652.9 768.8,653.0 C770.8,653.1 773.9,651.4 776.2,651.2 C778.6,651.1 787.5,651.1 790.0,651.2 C792.5,651.4 797.1,652.7 798.8,652.5 C800.4,652.3 803.6,649.7 805.0,649.4 C806.4,649.1 809.8,649.2 811.2,649.4 C812.7,649.6 816.6,651.5 818.0,651.2 C819.4,651.0 822.5,646.8 824.4,646.9 C826.3,647.0 832.7,651.0 835.0,651.9 C837.3,652.8 843.1,655.1 845.0,655.0 C846.9,654.9 851.1,651.7 851.9,651.2" stroke-width="2.15"/><path d="M851.9,651.2 L1048.0,683.6" stroke-width="2.7"/></g>
<g filter="url(#softt)">
<g font-size="6.6" fill="#1a1a1a" stroke="#1a1a1a" stroke-width="0.25" text-anchor="middle" filter="url(#softb)"><text x="273.00" y="704.30">0.10</text><text x="299.72" y="704.30">0.20</text><text x="326.45" y="704.30">0.30</text><text x="353.17" y="704.30">0.40</text><text x="379.90" y="704.30">0.50</text><text x="406.62" y="704.30">0.60</text><text x="433.34" y="704.30">0.70</text><text x="460.07" y="704.30">0.80</text><text x="486.79" y="704.30">0.90</text><text x="513.52" y="704.30">1.00</text><text x="540.24" y="704.30">1.10</text><text x="566.97" y="704.30">1.20</text><text x="593.69" y="704.30">1.30</text><text x="620.41" y="704.30">1.40</text><text x="647.14" y="704.30">1.50</text><text x="673.86" y="704.30">1.60</text><text x="700.59" y="704.30">1.70</text><text x="727.31" y="704.30">1.80</text><text x="754.03" y="704.30">1.90</text><text x="780.76" y="704.30">2.00</text><text x="807.48" y="704.30">2.10</text><text x="834.21" y="704.30">2.20</text><text x="860.93" y="704.30">2.30</text><text x="887.66" y="704.30">2.40</text><text x="914.38" y="704.30">2.50</text><text x="941.10" y="704.30">2.60</text><text x="967.83" y="704.30">2.70</text><text x="994.55" y="704.30">2.80</text><text x="1021.28" y="704.30">2.90</text><text x="1048.00" y="704.30">3.00</text></g>
<g font-size="6.6" fill="#1a1a1a" stroke="#1a1a1a" stroke-width="0.25" text-anchor="end" filter="url(#softb)"><text x="267.00" y="509.50">1.2</text><text x="267.00" y="532.62">1</text><text x="267.00" y="555.75">0.8</text><text x="267.00" y="578.88">0.6</text><text x="267.00" y="602.00">0.4</text><text x="267.00" y="625.12">0.2</text><text x="267.00" y="648.25">0</text><text x="267.00" y="671.38">-0.2</text><text x="267.00" y="694.50">-0.4</text></g>
<g fill="#2a2a2a" stroke="#2a2a2a" stroke-width="0.2" text-anchor="middle"><text x="287.50" y="503.50" font-size="8" textLength="13.8" lengthAdjust="spacingAndGlyphs">FUV</text><text x="309.70" y="503.50" font-size="8" textLength="15.6" lengthAdjust="spacingAndGlyphs">NUV</text><text x="340.00" y="503.50" font-size="6" font-weight="700">u</text><text x="370.60" y="503.50" font-size="6" font-weight="700">g</text><text x="416.20" y="503.50" font-size="6" font-weight="700">r</text><text x="448.70" y="503.50" font-size="6" font-weight="700">i</text><text x="488.70" y="503.50" font-size="6" font-weight="700">z</text><text x="525.00" y="503.50" font-size="6" font-weight="700">y</text><text x="579.40" y="503.50" font-size="6" font-weight="400">j</text><text x="685.60" y="503.50" font-size="6" font-weight="400">h</text><text x="830.00" y="503.50" font-size="6" font-weight="400">k</text></g>
<g transform="translate(0,493.90) scale(1,0.84)" font-size="11.6" font-weight="700" fill="#1c1c1c" stroke="#1c1c1c" stroke-width="0.65"><text x="625.60" y="0" textLength="70" lengthAdjust="spacingAndGlyphs">QSO SED (z =</text><text x="699.20" y="0" textLength="21.40" lengthAdjust="spacingAndGlyphs">1.7)</text></g>
<text transform="translate(249.3,599.50) rotate(-90)" font-size="6" font-weight="700" fill="#2a2a2a" text-anchor="middle" textLength="22" lengthAdjust="spacingAndGlyphs">Power()</text>
<g clip-path="url(#xl3)"><text x="623.7" y="710.3" font-size="6.5" font-weight="700" fill="#2a2a2a" textLength="74.29999999999995" lengthAdjust="spacingAndGlyphs">Wavelength (λ) μmeters</text></g>
<g font-size="6.4" fill="#1c1c1c" stroke="#1c1c1c" stroke-width="0.22" text-anchor="middle"><text x="334.6" y="524.5">Lyα</text><text x="320.7" y="569.0">O-VI</text><text x="357.0" y="557.0">C-IV</text><text x="344.5" y="581.5">O-IV</text><text x="344.5" y="590.5">Si-IV</text><text x="384.0" y="587.5">C-III</text><text x="425.6" y="611.5">Fe-II</text><text x="448.0" y="596.5">Mg-II</text><text x="561.5" y="623.0">Hγ</text><text x="576.5" y="635.5">Fe-II</text><text x="598.5" y="616.5">Hβ</text><text x="610.0" y="634.5">O-III</text><text x="624.0" y="642.0">Fe-II</text><text x="670.0" y="643.0">He-I</text><text x="723.0" y="588.5">Hα</text></g>
</g>
</g>
</g>
</svg>
</body>
</html>
